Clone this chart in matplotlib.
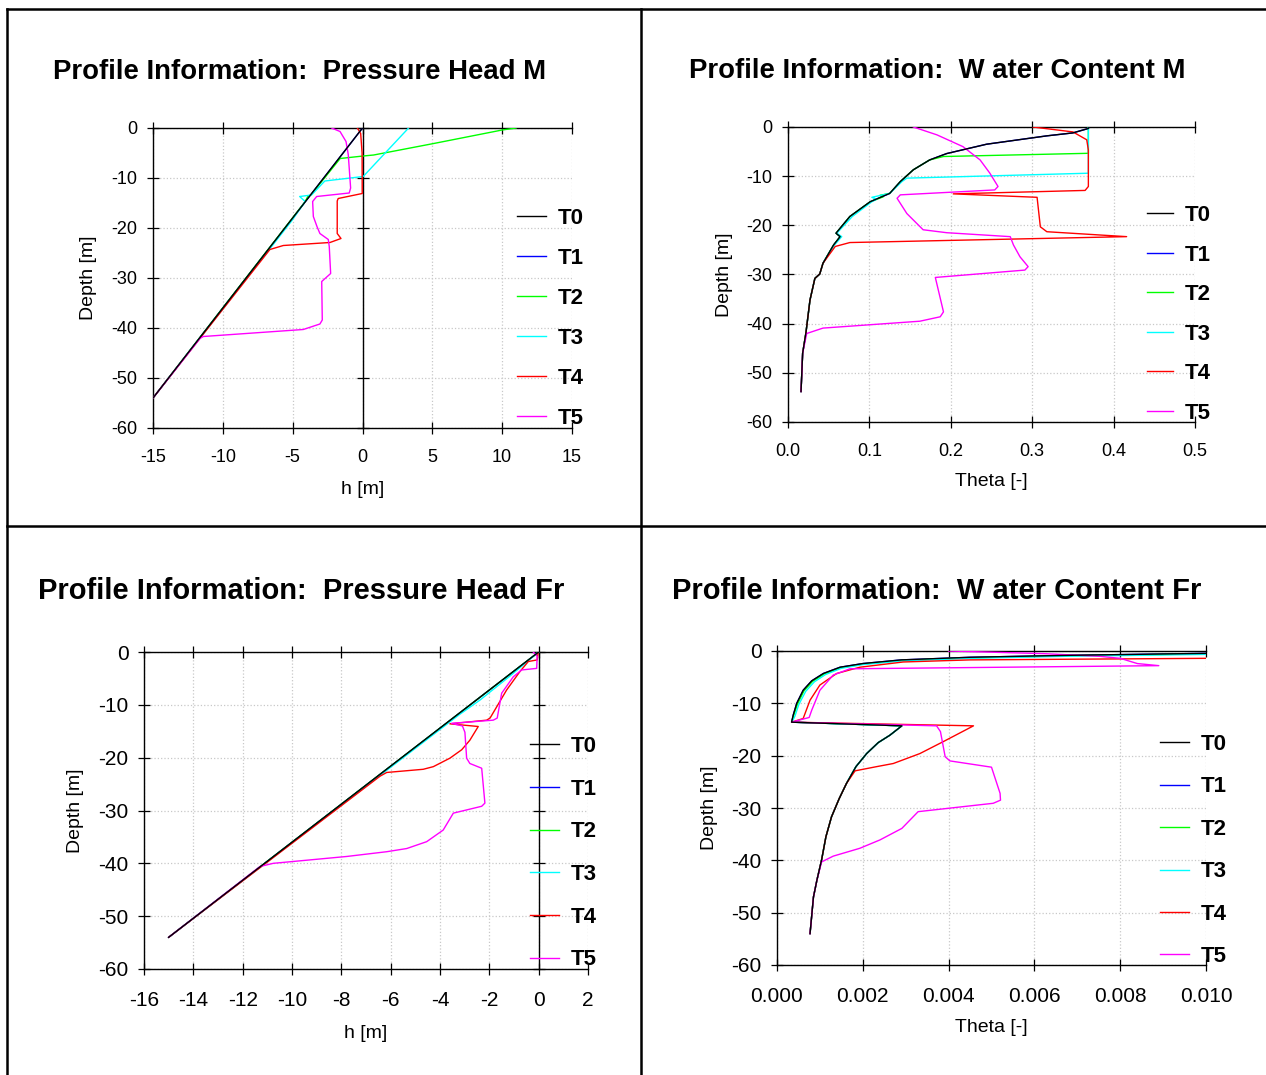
import matplotlib
matplotlib.use('Agg')
import matplotlib.pyplot as plt
from matplotlib.lines import Line2D
from matplotlib.ticker import FormatStrFormatter

plt.rcParams['font.family'] = ['Liberation Sans', 'DejaVu Sans']
plt.rcParams['axes.unicode_minus'] = False

series_names = ['T0', 'T1', 'T2', 'T3', 'T4', 'T5']
series_colors = ['black', 'blue', '#00ff00', 'cyan', 'red', 'magenta']

# --- Pressure head M ---
m_h_depth_t0 = [0, -54]
m_h_t0 = [0, -15]
m_h_depth_t1 = [0, -54]
m_h_t1 = [0, -15]
m_h_depth_t2 = [0, -0.4, -3.1, -5.4, -5.6, -6.1, -13.4, -13.6, -14.7, -54]
m_h_t2 = [11.0, 10.0, 5.1, 0.8, 0.05, -1.6, -3.7, -3.9, -4.1, -15]
m_h_depth_t3 = [0, -9.7, -10.6, -13.4, -13.7, -14.7, -18.5, -54]
m_h_t3 = [3.3, 0.05, -2.7, -3.65, -4.5, -4.1, -5.05, -15]
m_h_depth_t4 = [0, -1.1, -5.0, -13.1, -14.1, -14.6, -21.1, -22.1, -22.9, -23.5, -24.3, -54]
m_h_t4 = [-0.37, -0.13, -0.03, -0.02, -1.74, -1.81, -1.81, -1.54, -2.33, -5.67, -6.63, -15]
m_h_depth_t5 = [0, -0.7, -2.7, -5.3, -12.0, -13.0, -13.7, -14.7, -17.7, -19.7, -21.1, -22.3,
                -23.7, -29.1, -30.7, -38.4, -39.2, -40.3, -41.7, -42.1, -54]
m_h_t5 = [-2.21, -1.61, -1.18, -1.02, -0.85, -0.95, -3.28, -3.57, -3.52, -3.26, -3.05, -2.45,
          -2.38, -2.28, -2.92, -2.88, -3.05, -4.24, -11.4, -11.64, -15]

# --- Water content M ---
m_th_depth_t0 = [0, -0.3, -1.2, -1.8, -3.5, -5.4, -6.7, -8.7, -11.1, -13.5, -15.2, -18.2, -21.6,
                 -22.3, -24.0, -27.7, -29.9, -30.8, -35.2, -41.9, -46.0, -53.8]
m_th_t0 = [0.370, 0.369, 0.350, 0.318, 0.244, 0.195, 0.174, 0.154, 0.138, 0.125, 0.101, 0.076, 0.059,
           0.064, 0.056, 0.043, 0.039, 0.033, 0.027, 0.022, 0.018, 0.016]
m_th_depth_t1 = m_th_depth_t0
m_th_t1 = m_th_t0
m_th_depth_t2 = [0, -5.35, -6.0, -6.7, -8.7, -11.1, -13.5, -13.9, -14.2, -15.2, -18.2, -21.6, -22.3,
                 -24.0, -27.7, -29.9, -30.8, -35.2, -41.9, -46.0, -53.8]
m_th_t2 = [0.369, 0.369, 0.191, 0.174, 0.154, 0.138, 0.125, 0.113, 0.117, 0.101, 0.076, 0.059, 0.064,
           0.056, 0.043, 0.039, 0.033, 0.027, 0.022, 0.018, 0.016]
m_th_depth_t3 = [0, -9.4, -10.4, -11.1, -13.5, -14.3, -14.7, -15.2, -18.2, -21.6, -22.3, -24.0, -27.7,
                 -29.9, -30.8, -35.2, -41.9, -46.0, -53.8]
m_th_t3 = [0.369, 0.369, 0.146, 0.140, 0.125, 0.103, 0.109, 0.103, 0.079, 0.060, 0.066, 0.057, 0.043,
           0.039, 0.033, 0.027, 0.022, 0.018, 0.016]
m_th_depth_t4 = [0, -1.0, -2.6, -4.7, -12.1, -12.9, -13.6, -14.3, -20.3, -21.3, -22.3, -23.5, -24.3,
                 -27.7, -29.9, -30.8, -35.2, -41.9, -46.0, -53.8]
m_th_t4 = [0.301, 0.350, 0.367, 0.369, 0.369, 0.365, 0.203, 0.306, 0.310, 0.318, 0.416, 0.076, 0.058,
           0.043, 0.039, 0.033, 0.027, 0.022, 0.018, 0.016]
m_th_depth_t5 = [0, -1.6, -4.0, -6.7, -9.4, -12.1, -12.8, -13.8, -14.5, -17.6, -20.9, -21.5, -22.3,
                 -24.0, -26.4, -28.4, -29.1, -30.6, -37.6, -38.6, -39.5, -40.9, -42.0, -46.0, -53.8]
m_th_t5 = [0.154, 0.183, 0.215, 0.236, 0.248, 0.258, 0.254, 0.138, 0.134, 0.146, 0.166, 0.195, 0.273,
           0.277, 0.285, 0.295, 0.291, 0.181, 0.191, 0.187, 0.162, 0.043, 0.023, 0.018, 0.016]

# --- Pressure head Fr ---
fr_h_depth_t0 = [0, -54]
fr_h_t0 = [0, -15]
fr_h_depth_t1 = [0, -54]
fr_h_t1 = [0, -15]
fr_h_depth_t2 = [0, -54]
fr_h_t2 = [0, -15]
fr_h_depth_t3 = [0, -4.5, -9.1, -11.8, -54]
fr_h_t3 = [0, -1.15, -2.38, -3.2, -15]
fr_h_depth_t4 = [0, -1.5, -1.8, -3.7, -7.2, -12.5, -12.9, -13.6, -14.1, -16.7, -18.5, -20.1, -21.7,
                 -22.2, -22.8, -23.5, -54]
fr_h_t4 = [-0.02, -0.06, -0.42, -0.76, -1.30, -1.97, -2.11, -3.6, -2.45, -2.79, -3.12, -3.6, -4.27,
           -4.68, -6.16, -6.43, -15]
fr_h_depth_t5 = [0, -0.8, -3.1, -3.4, -4.7, -7.8, -12.5, -12.9, -13.5, -14.0, -15.2, -20.1, -21.1,
                 -22.0, -28.6, -29.2, -30.5, -33.7, -35.9, -37.2, -37.8, -38.7, -40.0, -40.6, -54]
fr_h_t5 = [-0.22, -0.06, -0.08, -0.69, -1.03, -1.5, -1.68, -1.84, -3.53, -3.09, -2.99, -2.92, -2.79,
           -2.31, -2.18, -2.31, -3.46, -3.87, -4.54, -5.35, -6.16, -7.78, -10.76, -11.3, -15]

# --- Water content Fr ---
fr_th_depth_t0 = [-0.45, -0.83, -1.2, -1.7, -2.4, -3.1, -4.3, -5.7, -7.5, -10.0, -12.2, -13.6, -14.3,
                  -16.1, -17.5, -19.6, -22.1, -25.3, -28.2, -31.7, -35.5, -39.9, -43.8, -47.0, -54.0]
fr_th_t0 = [0.0100, 0.0068, 0.0045, 0.0029, 0.0020, 0.00147, 0.00108, 0.00081, 0.00061, 0.00046,
            0.00038, 0.00034, 0.00291, 0.00263, 0.00236, 0.00209, 0.00184, 0.00162, 0.00145,
            0.00127, 0.00114, 0.00104, 0.00093, 0.00085, 0.00077]
fr_th_depth_t1 = fr_th_depth_t0
fr_th_t1 = fr_th_t0
fr_th_depth_t2 = [-0.55, -0.9, -1.3, -1.8, -2.5, -3.2, -4.4, -5.8, -7.6, -10.1, -12.3, -13.6, -14.3,
                  -16.1, -17.5, -19.6, -22.1, -25.3, -28.2, -31.7, -35.5, -39.9, -43.8, -47.0, -54.0]
fr_th_t2 = [0.0100, 0.0068, 0.0045, 0.0029, 0.0020, 0.00148, 0.00110, 0.00083, 0.00063, 0.00048,
            0.00039, 0.00034, 0.00291, 0.00263, 0.00236, 0.00209, 0.00184, 0.00162, 0.00145,
            0.00127, 0.00114, 0.00104, 0.00093, 0.00085, 0.00077]
fr_th_depth_t3 = [-0.65, -1.0, -1.4, -1.9, -2.6, -3.3, -4.5, -5.9, -7.7, -10.2, -12.4, -13.6, -14.3,
                  -16.1, -17.5, -19.6, -22.1, -25.3, -28.2, -31.7, -35.5, -39.9, -43.8, -47.0, -54.0]
fr_th_t3 = [0.0100, 0.0068, 0.0045, 0.0029, 0.0020, 0.0015, 0.00113, 0.00087, 0.00067, 0.00051,
            0.00042, 0.00035, 0.00291, 0.00263, 0.00236, 0.00209, 0.00184, 0.00162, 0.00145,
            0.00127, 0.00114, 0.00104, 0.00093, 0.00085, 0.00077]
fr_th_depth_t4 = [-1.4, -1.7, -2.1, -3.1, -4.3, -6.5, -9.4, -12.9, -13.6, -14.3, -17.3, -19.6, -21.5,
                  -22.1, -22.9, -25.3, -28.2, -31.7, -35.5, -39.9, -43.8, -47.0, -54.0]
fr_th_t4 = [0.0100, 0.0045, 0.00294, 0.00193, 0.00139, 0.00100, 0.00077, 0.00061, 0.00034, 0.00458,
            0.00388, 0.00333, 0.00271, 0.00232, 0.00182, 0.00162, 0.00145, 0.00127, 0.00114,
            0.00104, 0.00093, 0.00085, 0.00077]
fr_th_depth_t5 = [0, -0.5, -1.0, -1.4, -2.4, -2.8, -3.4, -4.6, -7.5, -11.3, -12.7, -13.6, -14.3, -15.4,
                  -20.2, -21.0, -22.2, -27.2, -28.5, -29.1, -30.7, -33.9, -36.1, -37.7, -39.2, -40.3,
                  -43.8, -47.0, -54.0]
fr_th_t5 = [0.0040, 0.0062, 0.0075, 0.0080, 0.0084, 0.0089, 0.0017, 0.00131, 0.00100, 0.00081,
            0.00075, 0.00034, 0.00372, 0.00381, 0.00392, 0.00403, 0.00500, 0.00520, 0.00521,
            0.00504, 0.00329, 0.00291, 0.00240, 0.00193, 0.00131, 0.00104, 0.00093, 0.00085, 0.00077]

depth_ticks = [-60, -50, -40, -30, -20, -10, 0]

W, H = 1266, 1075
fig = plt.figure(figsize=(W / 100, H / 100), dpi=100)


def px_rect(left, right, top, bottom):
    return [left / W, 1 - bottom / H, (right - left) / W, (bottom - top) / H]


def draw_panel(rect, curves, xlim, xticks, fmt, zero_line, tick_fs, xpad, xlabel, xlab_y, ylab_x,
               leg_xy, leg_space, handle_len):
    ax = fig.add_axes(px_rect(*rect))
    lines = []
    for i, (xs, ys) in enumerate(curves):
        ln, = ax.plot(xs, ys, color=series_colors[i], lw=1.0,
                      zorder=4 if i == 0 else 3, label=series_names[i])
        lines.append(ln)
    ax.set_xlim(*xlim)
    ax.set_ylim(-60, 0)
    ax.set_xticks(xticks)
    ax.set_yticks(depth_ticks)
    if fmt:
        ax.xaxis.set_major_formatter(FormatStrFormatter(fmt))
    ax.grid(True, color='#c8c8c8', linestyle=':', linewidth=0.9)
    for s in ['left', 'top', 'bottom']:
        ax.spines[s].set_linewidth(1.0)
    if zero_line:
        ax.spines['right'].set_position(('data', 0))
        ax.spines['right'].set_linewidth(1.0)
        ax.tick_params(axis='y', right=True)
    else:
        ax.spines['right'].set_visible(False)
    ax.tick_params(axis='x', top=True, bottom=True, direction='inout', length=8, width=0.9,
                   labelsize=tick_fs, pad=xpad)
    ax.tick_params(axis='y', direction='inout', length=8, width=0.9, labelsize=tick_fs, pad=7)
    ax.set_xlabel(xlabel, fontsize=14, va='center')
    ax.set_ylabel('Depth [m]', fontsize=14, va='center')
    ax.xaxis.set_label_coords(0.5, xlab_y)
    ax.yaxis.set_label_coords(ylab_x, 0.5)
    ax.legend(lines, series_names, loc='upper left', bbox_to_anchor=(leg_xy[0] / W, 1 - leg_xy[1] / H),
              bbox_transform=fig.transFigure, frameon=False, borderpad=0, borderaxespad=0,
              prop={'weight': 'bold', 'size': 16}, handlelength=handle_len, handletextpad=0.55,
              labelspacing=leg_space)
    return ax


draw_panel((153, 572, 128, 428),
           [(m_h_t0, m_h_depth_t0), (m_h_t1, m_h_depth_t1), (m_h_t2, m_h_depth_t2),
            (m_h_t3, m_h_depth_t3), (m_h_t4, m_h_depth_t4), (m_h_t5, m_h_depth_t5)],
           (-15, 15), [-15, -10, -5, 0, 5, 10, 15], None, True, 13, 11,
           'h [m]', -0.205, -0.155, (517, 208), 0.855, 1.3)

draw_panel((788, 1195, 127, 422),
           [(m_th_t0, m_th_depth_t0), (m_th_t1, m_th_depth_t1), (m_th_t2, m_th_depth_t2),
            (m_th_t3, m_th_depth_t3), (m_th_t4, m_th_depth_t4), (m_th_t5, m_th_depth_t5)],
           (0, 0.5), [0, 0.1, 0.2, 0.3, 0.4, 0.5], '%.1f', False, 13, 11,
           'Theta [-]', -0.2, -0.157, (1147, 205), 0.835, 1.15)

draw_panel((144, 588, 652, 969),
           [(fr_h_t0, fr_h_depth_t0), (fr_h_t1, fr_h_depth_t1), (fr_h_t2, fr_h_depth_t2),
            (fr_h_t3, fr_h_depth_t3), (fr_h_t4, fr_h_depth_t4), (fr_h_t5, fr_h_depth_t5)],
           (-16, 2), list(range(-16, 3, 2)), None, True, 15, 11.5,
           'h [m]', -0.205, -0.155, (530, 736), 0.975, 1.3)

draw_panel((777, 1206, 651, 965),
           [(fr_th_t0, fr_th_depth_t0), (fr_th_t1, fr_th_depth_t1), (fr_th_t2, fr_th_depth_t2),
            (fr_th_t3, fr_th_depth_t3), (fr_th_t4, fr_th_depth_t4), (fr_th_t5, fr_th_depth_t5)],
           (0, 0.01), [0, 0.002, 0.004, 0.006, 0.008, 0.010], '%.3f', False, 15, 11.5,
           'Theta [-]', -0.2, -0.158, (1160, 734), 0.965, 1.3)

titles = [
    ('Profile Information:  Pressure Head M', 53, 72, 19.8),
    ('Profile Information:  W ater Content M', 689, 71, 19.8),
    ('Profile Information:  Pressure Head Fr', 38, 591, 21.0),
    ('Profile Information:  W ater Content Fr', 672, 591, 21.0),
]
for txt, x, y, fs in titles:
    fig.text(x / W, 1 - y / H, txt, fontsize=fs, fontweight='bold', ha='left', va='center')

# cell borders of the surrounding table
for (x0, y0, x1, y1) in [(7, 9, W, 9), (7, 9, 7, H), (641, 9, 641, H), (7, 526, W, 526)]:
    fig.add_artist(Line2D([x0 / W, x1 / W], [1 - y0 / H, 1 - y1 / H], transform=fig.transFigure,
                          color='black', lw=1.8))

fig.savefig('out.png', dpi=100)
